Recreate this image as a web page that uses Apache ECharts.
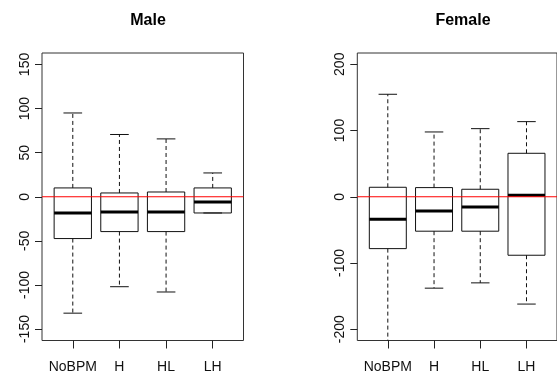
<!DOCTYPE html>
<html>
<head>
<meta charset="utf-8">
<script src="https://cdn.jsdelivr.net/npm/echarts@6/dist/echarts.min.js"></script>
<style>
html,body{margin:0;padding:0;background:#fff;}
#chart{width:557px;height:379px;}
</style>
</head>
<body>
<div id="chart"></div>
<script>
const categories = ['NoBPM', 'H', 'HL', 'LH'];

const maleLow = [-132, -102, -108, -18.4];
const maleQ1 = [-47.4, -39.5, -39.5, -18.4];
const maleMedian = [-18.4, -17.2, -17.2, -5.9];
const maleQ3 = [10, 4.3, 5.4, 10];
const maleHigh = [95, 70.6, 65.6, 27];

const femaleLow = [-240, -138, -130, -162];
const femaleQ1 = [-78.3, -52, -52, -88.3];
const femaleMedian = [-34, -21.4, -15.4, 2.2];
const femaleQ3 = [14.3, 13.8, 11.3, 65.6];
const femaleHigh = [154.7, 97.8, 102.8, 113.4];

const maleTicks = [-150, -100, -50, 0, 50, 100, 150];
const femaleTicks = [-200, -100, 0, 100, 200];
const positions = [1, 2, 3, 4];
const xRange = [0.34, 4.66];
const referenceValue = 0;

const FONT = '"Liberation Sans", Arial, sans-serif';

function buildData(lo, q1, md, q3, hi) {
  return positions.map((p, i) => [p, lo[i], q1[i], md[i], q3[i], hi[i]]);
}

function renderBox(params, api) {
  const x = api.value(0);
  const lo = api.value(1), q1 = api.value(2), md = api.value(3), q3 = api.value(4), hi = api.value(5);
  const w = api.size([0.8, 0])[0];
  const cx = api.coord([x, 0])[0];
  const yLo = api.coord([x, lo])[1];
  const yQ1 = api.coord([x, q1])[1];
  const yMd = api.coord([x, md])[1];
  const yQ3 = api.coord([x, q3])[1];
  const yHi = api.coord([x, hi])[1];
  const stroke = '#111';
  const dashed = {stroke: stroke, lineWidth: 1, lineDash: [4, 3]};
  const solid = {stroke: stroke, lineWidth: 1};
  return {
    type: 'group',
    children: [
      {type: 'line', shape: {x1: cx, y1: yQ3, x2: cx, y2: yHi}, style: dashed},
      {type: 'line', shape: {x1: cx, y1: yQ1, x2: cx, y2: yLo}, style: dashed},
      {type: 'line', shape: {x1: cx - w / 4, y1: yHi, x2: cx + w / 4, y2: yHi}, style: solid},
      {type: 'line', shape: {x1: cx - w / 4, y1: yLo, x2: cx + w / 4, y2: yLo}, style: solid},
      {type: 'rect', shape: {x: cx - w / 2, y: yQ3, width: w, height: yQ1 - yQ3}, style: {fill: 'none', stroke: stroke, lineWidth: 1}},
      {type: 'line', shape: {x1: cx - w / 2, y1: yMd, x2: cx + w / 2, y2: yMd}, style: {stroke: '#000', lineWidth: 3}}
    ]
  };
}

function xAxisFor(idx) {
  return {
    type: 'value', gridIndex: idx, min: xRange[0], max: xRange[1],
    axisLine: {show: false, onZero: false},
    splitLine: {show: false},
    axisTick: {show: true, inside: false, length: 8, customValues: positions, lineStyle: {color: '#222', width: 1}},
    axisLabel: {show: true, customValues: positions, margin: 20, fontSize: 14, fontFamily: FONT, color: '#111',
      formatter: function (v) { return categories[Math.round(v) - 1]; }}
  };
}

function yAxisFor(idx, lim, ticks) {
  return {
    type: 'value', gridIndex: idx, min: -lim, max: lim,
    axisLine: {show: false, onZero: false},
    splitLine: {show: false},
    axisTick: {show: true, inside: false, length: 7, customValues: ticks, lineStyle: {color: '#222', width: 1}},
    axisLabel: {show: true, customValues: ticks, rotate: 90, margin: 10, fontSize: 14, fontFamily: FONT, color: '#111'}
  };
}

function seriesFor(idx, data) {
  return {
    type: 'custom', xAxisIndex: idx, yAxisIndex: idx, clip: true,
    renderItem: renderBox, data: data, silent: true, z: 2,
    encode: {x: 0, y: [1, 2, 3, 4, 5]}
  };
}

function refLineFor(idx) {
  return {
    type: 'line', xAxisIndex: idx, yAxisIndex: idx, silent: true, z: 5,
    symbol: 'none', showSymbol: false,
    lineStyle: {color: '#ff0000', width: 1, type: 'solid'},
    itemStyle: {color: '#ff0000'},
    data: [[xRange[0], referenceValue], [xRange[1], referenceValue]]
  };
}

const chart = echarts.init(document.getElementById('chart'), null, {renderer: 'canvas'});
chart.setOption({
  animation: false,
  backgroundColor: '#fff',
  title: [
    {text: 'Male', left: 143, top: 8, textAlign: 'center',
      textStyle: {fontSize: 16, fontWeight: 'bold', fontFamily: FONT, color: '#000'}},
    {text: 'Female', left: 458, top: 8, textAlign: 'center',
      textStyle: {fontSize: 16, fontWeight: 'bold', fontFamily: FONT, color: '#000'}}
  ],
  grid: [
    {left: 42, top: 53, width: 201.5, height: 287.5, show: true, borderColor: '#333', borderWidth: 1, backgroundColor: 'transparent'},
    {left: 357.3, top: 53, width: 201.5, height: 287.5, show: true, borderColor: '#333', borderWidth: 1, backgroundColor: 'transparent'}
  ],
  xAxis: [xAxisFor(0), xAxisFor(1)],
  yAxis: [yAxisFor(0, 163, maleTicks), yAxisFor(1, 217, femaleTicks)],
  series: [
    seriesFor(0, buildData(maleLow, maleQ1, maleMedian, maleQ3, maleHigh)),
    seriesFor(1, buildData(femaleLow, femaleQ1, femaleMedian, femaleQ3, femaleHigh)),
    refLineFor(0),
    refLineFor(1)
  ]
});
</script>
</body>
</html>
